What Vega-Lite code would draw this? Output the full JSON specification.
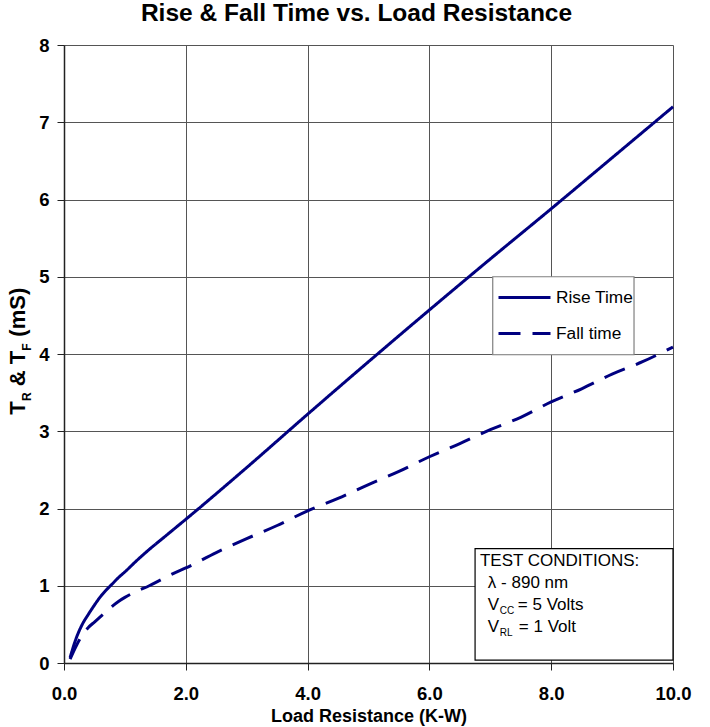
{
  "$schema": "https://vega.github.io/schema/vega-lite/v6.json",
  "width": 609,
  "height": 618,
  "autosize": "none",
  "padding": {"left": 64, "top": 45, "right": 37, "bottom": 64},
  "background": "white",
  "config": {
    "font": "Liberation Sans",
    "view": {"stroke": null},
    "axis": {
      "labelFont": "Liberation Sans", "labelFontWeight": "bold", "labelFontSize": 18.5, "labelColor": "black",
      "titleFont": "Liberation Sans", "titleFontWeight": "bold", "titleFontSize": 18, "titleColor": "black",
      "gridColor": "#555555", "gridWidth": 1, "gridOpacity": 1,
      "domainColor": "#222222", "domainWidth": 1.5,
      "tickColor": "#222222", "tickSize": 7, "tickWidth": 1
    },
    "text": {"font": "Liberation Sans", "fill": "black", "align": "left", "baseline": "alphabetic"}
  },
  "title": {
    "text": "Rise & Fall Time vs. Load Resistance",
    "font": "Liberation Sans", "fontSize": 24.5, "fontWeight": "bold", "color": "black",
    "anchor": "middle", "dx": -12, "offset": 10
  },
  "layer": [
    {
      "data": {"values": [{"k": 1}]},
      "mark": {"type": "rect", "fill": "white", "stroke": "#808080", "strokeWidth": 1.2},
      "encoding": {
        "x": {"datum": 7.04, "type": "quantitative", "scale": {"domain": [0, 10], "nice": false, "zero": false},
          "axis": {"values": [0, 2, 4, 6, 8, 10], "format": ".1f", "title": "Load Resistance (K-W)", "labelPadding": 14, "titlePadding": 5, "grid": true, "labelFlush": false}},
        "x2": {"datum": 9.36},
        "y": {"datum": 5.0, "type": "quantitative", "scale": {"domain": [0, 8], "nice": false},
          "axis": {"values": [0, 1, 2, 3, 4, 5, 6, 7, 8], "format": "d", "title": null, "labelPadding": 8, "grid": true}},
        "y2": {"datum": 3.99}
      }
    },
    {
      "data": {"values": [{"k": 1}]},
      "mark": {"type": "rect", "fill": "white", "stroke": "black", "strokeWidth": 1.2},
      "encoding": {"x": {"datum": 6.75, "type": "quantitative"}, "x2": {"datum": 10}, "y": {"datum": 1.48, "type": "quantitative"}, "y2": {"datum": 0.036}}
    },
    {
      "data": {
        "values": [
          {"load": 0.1, "time": 0.07, "series": "Rise Time"},
          {"load": 0.2, "time": 0.32, "series": "Rise Time"},
          {"load": 0.3, "time": 0.5, "series": "Rise Time"},
          {"load": 0.4, "time": 0.63, "series": "Rise Time"},
          {"load": 0.5, "time": 0.75, "series": "Rise Time"},
          {"load": 0.6, "time": 0.86, "series": "Rise Time"},
          {"load": 0.7, "time": 0.95, "series": "Rise Time"},
          {"load": 0.8, "time": 1.03, "series": "Rise Time"},
          {"load": 0.9, "time": 1.11, "series": "Rise Time"},
          {"load": 1.0, "time": 1.18, "series": "Rise Time"},
          {"load": 1.2, "time": 1.33, "series": "Rise Time"},
          {"load": 1.4, "time": 1.47, "series": "Rise Time"},
          {"load": 1.6, "time": 1.6, "series": "Rise Time"},
          {"load": 1.8, "time": 1.73, "series": "Rise Time"},
          {"load": 2.0, "time": 1.86, "series": "Rise Time"},
          {"load": 3.0, "time": 2.53, "series": "Rise Time"},
          {"load": 4.0, "time": 3.22, "series": "Rise Time"},
          {"load": 5.0, "time": 3.9, "series": "Rise Time"},
          {"load": 6.0, "time": 4.57, "series": "Rise Time"},
          {"load": 7.0, "time": 5.23, "series": "Rise Time"},
          {"load": 8.0, "time": 5.88, "series": "Rise Time"},
          {"load": 9.0, "time": 6.54, "series": "Rise Time"},
          {"load": 10.0, "time": 7.2, "series": "Rise Time"},
          {"load": 0.1, "time": 0.05, "series": "Fall time"},
          {"load": 0.2, "time": 0.22, "series": "Fall time"},
          {"load": 0.3, "time": 0.36, "series": "Fall time"},
          {"load": 0.4, "time": 0.46, "series": "Fall time"},
          {"load": 0.5, "time": 0.53, "series": "Fall time"},
          {"load": 0.6, "time": 0.6, "series": "Fall time"},
          {"load": 0.7, "time": 0.67, "series": "Fall time"},
          {"load": 0.8, "time": 0.74, "series": "Fall time"},
          {"load": 0.9, "time": 0.8, "series": "Fall time"},
          {"load": 1.0, "time": 0.85, "series": "Fall time"},
          {"load": 1.2, "time": 0.93, "series": "Fall time"},
          {"load": 1.4, "time": 1.0, "series": "Fall time"},
          {"load": 1.6, "time": 1.08, "series": "Fall time"},
          {"load": 1.8, "time": 1.16, "series": "Fall time"},
          {"load": 2.0, "time": 1.23, "series": "Fall time"},
          {"load": 2.5, "time": 1.43, "series": "Fall time"},
          {"load": 3.0, "time": 1.61, "series": "Fall time"},
          {"load": 3.5, "time": 1.78, "series": "Fall time"},
          {"load": 4.0, "time": 1.97, "series": "Fall time"},
          {"load": 4.5, "time": 2.13, "series": "Fall time"},
          {"load": 5.0, "time": 2.31, "series": "Fall time"},
          {"load": 5.5, "time": 2.48, "series": "Fall time"},
          {"load": 6.0, "time": 2.67, "series": "Fall time"},
          {"load": 6.5, "time": 2.84, "series": "Fall time"},
          {"load": 7.0, "time": 3.02, "series": "Fall time"},
          {"load": 7.5, "time": 3.18, "series": "Fall time"},
          {"load": 8.0, "time": 3.38, "series": "Fall time"},
          {"load": 8.5, "time": 3.55, "series": "Fall time"},
          {"load": 9.0, "time": 3.74, "series": "Fall time"},
          {"load": 9.5, "time": 3.9, "series": "Fall time"},
          {"load": 10.0, "time": 4.09, "series": "Fall time"}
        ]
      },
      "mark": {"type": "line", "color": "#000080", "strokeWidth": 3, "interpolate": "monotone"},
      "encoding": {
        "x": {"field": "load", "type": "quantitative"},
        "y": {"field": "time", "type": "quantitative"},
        "detail": {"field": "series"},
        "strokeDash": {
          "field": "series", "type": "nominal",
          "scale": {"domain": ["Rise Time", "Fall time"], "range": [[1, 0], [22, 12]]},
          "legend": {
            "title": null, "orient": "none", "legendX": 433, "legendY": 225,
            "direction": "vertical", "padding": 0,
            "symbolType": "stroke", "symbolSize": 2704, "symbolStrokeWidth": 3, "symbolStrokeColor": "#000080",
            "labelFont": "Liberation Sans", "labelFontSize": 17.3, "labelColor": "black", "labelOffset": 4,
            "rowPadding": -10
          }
        }
      }
    },
    {
      "data": {"values": [{"k": 1}]},
      "mark": {"type": "text", "text": "TEST CONDITIONS:", "fontSize": 17},
      "encoding": {"x": {"datum": 6.83, "type": "quantitative"}, "y": {"datum": 1.252, "type": "quantitative"}}
    },
    {
      "data": {"values": [{"k": 1}]},
      "mark": {"type": "text", "text": "λ - 890 nm", "fontSize": 17},
      "encoding": {"x": {"datum": 6.96, "type": "quantitative"}, "y": {"datum": 0.977, "type": "quantitative"}}
    },
    {
      "data": {"values": [{"k": 1}]},
      "mark": {"type": "text", "text": "V", "fontSize": 17},
      "encoding": {"x": {"datum": 6.96, "type": "quantitative"}, "y": {"datum": 0.683, "type": "quantitative"}}
    },
    {
      "data": {"values": [{"k": 1}]},
      "mark": {"type": "text", "text": "CC", "fontSize": 10, "dx": 12, "dy": 3.5},
      "encoding": {"x": {"datum": 6.96, "type": "quantitative"}, "y": {"datum": 0.683, "type": "quantitative"}}
    },
    {
      "data": {"values": [{"k": 1}]},
      "mark": {"type": "text", "text": "= 5 Volts", "fontSize": 17, "dx": 30},
      "encoding": {"x": {"datum": 6.96, "type": "quantitative"}, "y": {"datum": 0.683, "type": "quantitative"}}
    },
    {
      "data": {"values": [{"k": 1}]},
      "mark": {"type": "text", "text": "V", "fontSize": 17},
      "encoding": {"x": {"datum": 6.96, "type": "quantitative"}, "y": {"datum": 0.398, "type": "quantitative"}}
    },
    {
      "data": {"values": [{"k": 1}]},
      "mark": {"type": "text", "text": "RL", "fontSize": 10, "dx": 12, "dy": 3.5},
      "encoding": {"x": {"datum": 6.96, "type": "quantitative"}, "y": {"datum": 0.398, "type": "quantitative"}}
    },
    {
      "data": {"values": [{"k": 1}]},
      "mark": {"type": "text", "text": "= 1 Volt", "fontSize": 17, "dx": 31},
      "encoding": {"x": {"datum": 6.96, "type": "quantitative"}, "y": {"datum": 0.398, "type": "quantitative"}}
    },
    {
      "data": {"values": [{"k": 1}]},
      "mark": {"type": "text", "text": "T", "angle": 270, "fontSize": 22, "fontWeight": "bold"},
      "encoding": {"x": {"datum": -0.64, "type": "quantitative"}, "y": {"datum": 3.215, "type": "quantitative"}}
    },
    {
      "data": {"values": [{"k": 1}]},
      "mark": {"type": "text", "text": "R", "angle": 270, "fontSize": 12, "fontWeight": "bold", "dx": 13.6, "dy": 5.5},
      "encoding": {"x": {"datum": -0.64, "type": "quantitative"}, "y": {"datum": 3.215, "type": "quantitative"}}
    },
    {
      "data": {"values": [{"k": 1}]},
      "mark": {"type": "text", "text": "& T", "angle": 270, "fontSize": 22, "fontWeight": "bold", "dx": 28.5},
      "encoding": {"x": {"datum": -0.64, "type": "quantitative"}, "y": {"datum": 3.215, "type": "quantitative"}}
    },
    {
      "data": {"values": [{"k": 1}]},
      "mark": {"type": "text", "text": "F", "angle": 270, "fontSize": 12, "fontWeight": "bold", "dx": 64, "dy": 5.5},
      "encoding": {"x": {"datum": -0.64, "type": "quantitative"}, "y": {"datum": 3.215, "type": "quantitative"}}
    },
    {
      "data": {"values": [{"k": 1}]},
      "mark": {"type": "text", "text": "(mS)", "angle": 270, "fontSize": 22, "fontWeight": "bold", "dx": 78},
      "encoding": {"x": {"datum": -0.64, "type": "quantitative"}, "y": {"datum": 3.215, "type": "quantitative"}}
    }
  ]
}
